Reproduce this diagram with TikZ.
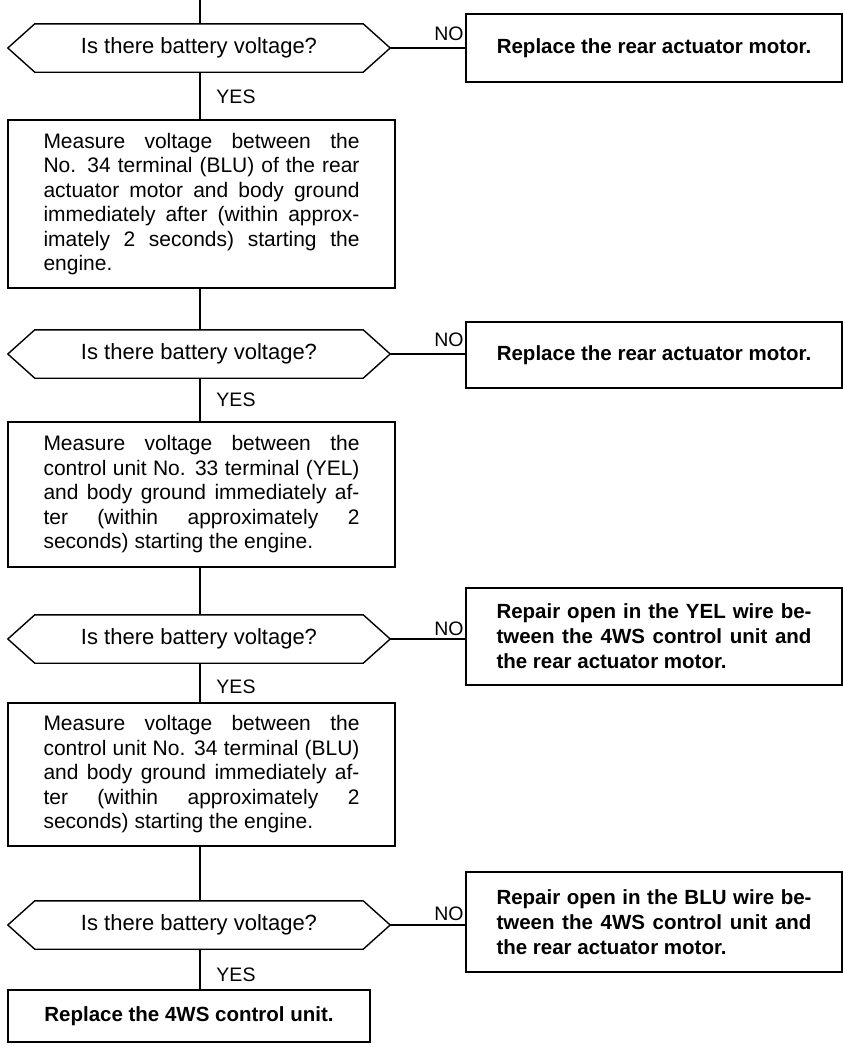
\documentclass[tikz,border=0pt]{standalone}
\usepackage{fontspec}
\setmainfont{Liberation Sans}
\begin{document}
\begin{tikzpicture}[x=1pt,y=-1pt,
  line/.style={line width=1.4pt},
  txt/.style={font=\fontsize{21}{24.5}\selectfont},
  boxnode/.style={draw, line width=1.4pt, inner sep=0pt, txt, align=left},
  rbox/.style={draw, line width=1.4pt, inner sep=0pt, font=\fontsize{20.5}{25}\selectfont\bfseries, align=left, minimum width=376},
  decnode/.style={inner sep=0pt, minimum width=382, minimum height=48, font=\fontsize{22}{24.5}\selectfont},
  lab/.style={inner sep=0pt, font=\fontsize{19.5}{22}\selectfont}]
\newcommand\jl[1]{\makebox[316pt][s]{#1}}
\newcommand\jr[1]{\makebox[315pt][s]{#1}}
\newcommand\hexa[1]{\draw[line] (#1.west) -- ([xshift=27]#1.north west) -- ([xshift=-27]#1.north east) -- (#1.east) -- ([xshift=-27]#1.south east) -- ([xshift=27]#1.south west) -- cycle;}
\useasboundingbox (0,0) rectangle (843,1047);
\fill[white] (0,0) rectangle (843,1047);

\coordinate (top) at (200,0);

% decision 1
\node[decnode] (d1) at (199,48) {Is there battery voltage?};
\hexa{d1}
\node[rbox, minimum height=68] (r1) at (654,48) {Replace the rear actuator motor.};
\node[lab] (n1) at (449,34) {NO};
\node[lab] (y1) at (236,97) {YES};

% box 1
\node[boxnode, minimum width=387, minimum height=168] (m1) at (201.5,204) {%
\jl{Measure voltage between the}\\
\jl{No. 34 terminal (BLU) of the rear}\\
\jl{actuator motor and body ground}\\
\jl{immediately after (within approx-}\\
\jl{imately 2 seconds) starting the}\\
engine.};

% decision 2
\node[decnode] (d2) at (199,354) {Is there battery voltage?};
\hexa{d2}
\node[rbox, minimum height=66] (r2) at (654,355) {Replace the rear actuator motor.};
\node[lab] (n2) at (449,340) {NO};
\node[lab] (y2) at (236,400) {YES};

% box 2
\node[boxnode, minimum width=387, minimum height=145] (m2) at (201.5,494.5) {%
\jl{Measure voltage between the}\\
\jl{control unit No. 33 terminal (YEL)}\\
\jl{and body ground immediately af-}\\
\jl{ter (within approximately 2}\\
seconds) starting the engine.};

% decision 3
\node[decnode] (d3) at (199,639) {Is there battery voltage?};
\hexa{d3}
\node[rbox, minimum height=97] (r3) at (654,636.5) {%
\jr{Repair open in the YEL wire be-}\\
\jr{tween the 4WS control unit and}\\
the rear actuator motor.};
\node[lab] (n3) at (449,629) {NO};
\node[lab] (y3) at (236,687) {YES};

% box 3
\node[boxnode, minimum width=387, minimum height=143] (m3) at (201.5,774.5) {%
\jl{Measure voltage between the}\\
\jl{control unit No. 34 terminal (BLU)}\\
\jl{and body ground immediately af-}\\
\jl{ter (within approximately 2}\\
seconds) starting the engine.};

% decision 4
\node[decnode] (d4) at (199,925) {Is there battery voltage?};
\hexa{d4}
\node[rbox, minimum height=100] (r4) at (654,922) {%
\jr{Repair open in the BLU wire be-}\\
\jr{tween the 4WS control unit and}\\
the rear actuator motor.};
\node[lab] (n4) at (449,914) {NO};
\node[lab] (y4) at (236,975) {YES};

% final
\node[boxnode, font=\fontsize{20.5}{24}\selectfont\bfseries, minimum width=362, minimum height=52] (f) at (189,1016) {Replace the 4WS control unit.};

% connectors
\draw[line] (top) -- (d1.north -| top);
\draw[line] (d1.south -| top) -- (m1.north -| top);
\draw[line] (m1.south -| top) -- (d2.north -| top);
\draw[line] (d2.south -| top) -- (m2.north -| top);
\draw[line] (m2.south -| top) -- (d3.north -| top);
\draw[line] (d3.south -| top) -- (m3.north -| top);
\draw[line] (m3.south -| top) -- (d4.north -| top);
\draw[line] (d4.south -| top) -- (f.north -| top);
\draw[line] (d1.east) -- (r1.west |- d1.east);
\draw[line] (d2.east) -- (r2.west |- d2.east);
\draw[line] (d3.east) -- (r3.west |- d3.east);
\draw[line] (d4.east) -- (r4.west |- d4.east);
\end{tikzpicture}
\end{document}
